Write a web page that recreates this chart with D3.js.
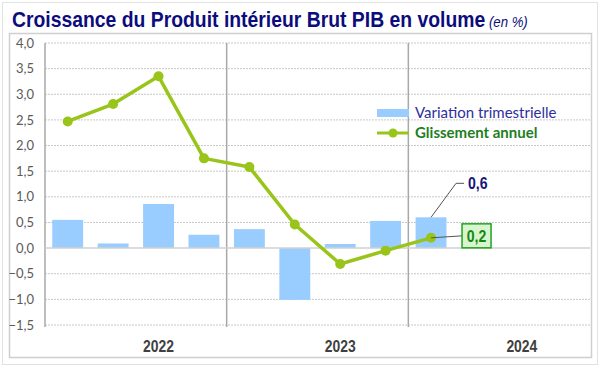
<!DOCTYPE html>
<html>
<head>
<meta charset="utf-8">
<script src="https://cdn.jsdelivr.net/npm/d3@7"></script>
<style>
  body { margin: 0; background: #fff; }
  svg { display: block; }
</style>
</head>
<body>
<svg id="chart" width="600" height="367"></svg>
<script>
// trimestres (12 cases, données jusqu'au T1 2024)
let quarters = ["T1 2022","T2 2022","T3 2022","T4 2022",
                "T1 2023","T2 2023","T3 2023","T4 2023",
                "T1 2024","T2 2024","T3 2024","T4 2024"];
let years = ["2022","2023","2024"];
let variationTrim = [0.55, 0.09, 0.86, 0.26, 0.37, -1.01, 0.08, 0.53, 0.6];
let glissementAnnuel = [2.47, 2.81, 3.35, 1.75, 1.58, 0.46, -0.31, -0.05, 0.2];
let yTicks = [-1.5, -1.0, -0.5, 0.0, 0.5, 1.0, 1.5, 2.0, 2.5, 3.0, 3.5, 4.0];

let svg = d3.select('#chart');
let fmt = d => d3.format('.1f')(d).replace('.', ',');
let narrow = '"Liberation Sans Narrow", "Arial Narrow", "Liberation Sans", Arial, sans-serif';

let x = d3.scaleBand().domain(quarters).range([45, 590]);
let y = d3.scaleLinear().domain([-1.5, 4]).range([325, 43]);

// cadres
svg.append('rect').attr('x', 2.5).attr('y', 2.5).attr('width', 595).attr('height', 362)
    .attr('fill', '#fff').attr('stroke', '#e2e2e2');
svg.append('rect').attr('x', 9.5).attr('y', 33.5).attr('width', 582).attr('height', 324)
    .attr('fill', '#fff').attr('stroke', '#cfcfcf').attr('stroke-width', 1.5);

// titre (condensé)
let title = svg.append('text').attr('transform', 'translate(12,27) scale(0.88,1)')
    .attr('font-family', narrow)
    .attr('font-weight', 'bold').attr('font-size', 22).attr('fill', '#0c0c7c')
    .text('Croissance du Produit intérieur Brut PIB en volume');
title.append('tspan').attr('font-weight', 'normal').attr('font-style', 'italic')
    .attr('font-size', 15).text(' (en %)');

// grille
svg.append('g').selectAll('line').data(yTicks.filter(d => d !== 0)).enter().append('line')
    .attr('x1', 45).attr('x2', 590)
    .attr('y1', d => y(d)).attr('y2', d => y(d))
    .attr('stroke', '#c8c8c8').attr('stroke-dasharray', '2,1');

// axe y
let yAxis = d3.axisLeft(y).tickValues(yTicks).tickFormat(fmt).tickSize(0).tickPadding(11);
let gy = svg.append('g').attr('transform', 'translate(45,0)').call(yAxis);
gy.select('.domain').remove();
gy.selectAll('text').attr('font-family', 'Lato, sans-serif').attr('font-size', 13)
    .attr('fill', '#5a5a5a');

// séparateurs d'années
let yearStarts = years.map((yr, i) => quarters[i * 4]);
svg.append('g').selectAll('line').data(yearStarts).enter().append('line')
    .attr('x1', d => x(d)).attr('x2', d => x(d))
    .attr('y1', y(4)).attr('y2', y(-1.5) + 2)
    .attr('stroke', '#a8a8a8').attr('stroke-width', 1.5);

// barres
let bw = x.bandwidth() * 0.68;
svg.append('g').selectAll('rect').data(variationTrim).enter().append('rect')
    .attr('x', (d, i) => x(quarters[i]) + (x.bandwidth() - bw) / 2)
    .attr('width', bw)
    .attr('y', d => y(Math.max(0, d)))
    .attr('height', d => Math.abs(y(d) - y(0)))
    .attr('fill', '#99ccff');

// ligne zéro
svg.append('line').attr('x1', 45).attr('x2', 590).attr('y1', y(0)).attr('y2', y(0))
    .attr('stroke', '#d0d0d0').attr('stroke-width', 1.5);

// glissement annuel
let cx = (d, i) => x(quarters[i]) + x.bandwidth() / 2;
let line = d3.line().x(cx).y(d => y(d));
svg.append('path').datum(glissementAnnuel).attr('d', line)
    .attr('fill', 'none').attr('stroke', '#99c419').attr('stroke-width', 3.5)
    .attr('stroke-linejoin', 'round');
svg.append('g').selectAll('circle').data(glissementAnnuel).enter().append('circle')
    .attr('cx', cx).attr('cy', d => y(d)).attr('r', 5).attr('fill', '#99c419');

// étiquettes d'années (centrées sur le T3)
svg.append('g').selectAll('text').data(years).enter().append('text')
    .attr('transform', (d, i) => `translate(${x(quarters[i * 4 + 2]) + x.bandwidth() / 2},352) scale(0.82,1)`)
    .attr('text-anchor', 'middle')
    .attr('font-family', narrow)
    .attr('font-weight', 'bold').attr('font-size', 17).attr('fill', '#404040')
    .text(d => d);

// légende
let lg = svg.append('g').attr('transform', 'translate(377,0)');
lg.append('rect').attr('x', 0).attr('y', 109).attr('width', 32).attr('height', 8).attr('fill', '#99ccff');
lg.append('text').attr('x', 38).attr('y', 118).attr('font-family', 'Lato, sans-serif')
    .attr('font-size', 15).attr('fill', '#2e2e9e').text('Variation trimestrielle');
lg.append('line').attr('x1', 0).attr('x2', 32).attr('y1', 133).attr('y2', 133)
    .attr('stroke', '#99c419').attr('stroke-width', 3);
lg.append('circle').attr('cx', 16).attr('cy', 133).attr('r', 4.5).attr('fill', '#99c419');
lg.append('text').attr('x', 38).attr('y', 138).attr('font-family', 'Lato, sans-serif')
    .attr('font-weight', 'bold').attr('font-size', 15).attr('fill', '#1e7e1e').text('Glissement annuel');

// annotations du dernier point
let last = variationTrim.length - 1;
let bx = cx(0, last), by = y(variationTrim[last]);
svg.append('path')
    .attr('d', `M${bx},${by} L${bx + 25},${by - 34} L${bx + 33},${by - 34}`)
    .attr('fill', 'none').attr('stroke', '#555').attr('stroke-width', 1);
svg.append('text').attr('transform', `translate(${bx + 37},${by - 28}) scale(0.88,1)`)
    .attr('font-family', narrow)
    .attr('font-weight', 'bold').attr('font-size', 16).attr('fill', '#14147a')
    .text(fmt(variationTrim[last]));

let gyv = y(glissementAnnuel[last]);
svg.append('line').attr('x1', bx).attr('x2', bx + 31).attr('y1', gyv).attr('y2', gyv - 2)
    .attr('stroke', '#555').attr('stroke-width', 1);
svg.append('rect').attr('x', bx + 31).attr('y', gyv - 14).attr('width', 29).attr('height', 24)
    .attr('fill', '#d9f5cf').attr('stroke', '#21a321').attr('stroke-width', 1.5);
svg.append('text').attr('transform', `translate(${bx + 45.5},${gyv + 4}) scale(0.88,1)`)
    .attr('text-anchor', 'middle')
    .attr('font-family', narrow)
    .attr('font-weight', 'bold').attr('font-size', 16).attr('fill', '#118a11')
    .text(fmt(glissementAnnuel[last]));
</script>
</body>
</html>
